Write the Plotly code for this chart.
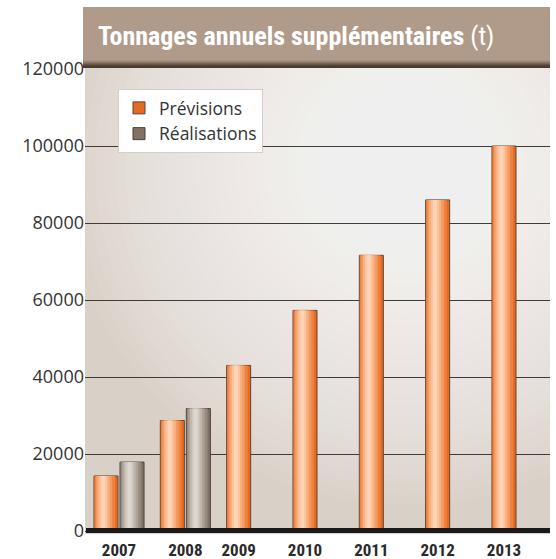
import plotly.graph_objects as go

# ---- data ----
years = ["2007", "2008", "2009", "2010", "2011", "2012", "2013"]
previsions = [14300, 28700, 43000, 57300, 71600, 86000, 100000]
realisations = [17900, 31800, None, None, None, None, None]
y_ticks = [0, 20000, 40000, 60000, 80000, 100000, 120000]
title_main = "Tonnages annuels supplémentaires"
title_unit = "(t)"

COND = "Liberation Sans Narrow, Roboto Condensed, DejaVu Sans Condensed, Roboto, sans-serif"

W, H = 556, 559
ML, MR, MT, MB = 85, 6, 68, 25
PX_PER_UNIT_X = 66.3
X0 = -21 / PX_PER_UNIT_X
X1 = 6 + 46 / PX_PER_UNIT_X
Y_PER_PX = 1000 / 3.85
Y0 = -3 * Y_PER_PX
Y1 = 120000 + 1 * Y_PER_PX

bar_w = 24 / PX_PER_UNIT_X
gap = 26 / PX_PER_UNIT_X

x_prev = list(range(len(years)))
x_real = [i + gap for i in range(len(years))]
tickvals = [i + (gap / 2 if realisations[i] is not None else 0) for i in range(len(years))]

fig = go.Figure()

# layered bars to imitate the cylinder gradient
orange_layers = [(1.0, 0.0, "#e56a22"), (0.86, -0.05, "#ee8140"), (0.68, -0.08, "#f49a60"),
                 (0.5, -0.1, "#f8b07f"), (0.32, -0.11, "#fbc49e"), (0.16, -0.11, "#fdd4b8")]
gray_layers = [(1.0, 0.0, "#817267"), (0.86, -0.05, "#978a7f"), (0.68, -0.08, "#ada297"),
               (0.5, -0.1, "#c2b8ae"), (0.32, -0.11, "#d2cac2"), (0.16, -0.11, "#ddd7d0")]

for k, (frac, off, col) in enumerate(orange_layers):
    fig.add_trace(go.Bar(
        x=[x + off * bar_w for x in x_prev], y=previsions, width=bar_w * frac,
        marker=dict(color=col, line=dict(color="#5e4536" if k == 0 else col, width=1 if k == 0 else 0)),
        name="Prévisions", showlegend=(k == 0), legendgroup="p", hoverinfo="skip"))
for k, (frac, off, col) in enumerate(gray_layers):
    fig.add_trace(go.Bar(
        x=[x + off * bar_w for x in x_real], y=realisations, width=bar_w * frac,
        marker=dict(color=col, line=dict(color="#4a3f38" if k == 0 else col, width=1 if k == 0 else 0)),
        name="Réalisations", showlegend=(k == 0), legendgroup="r", hoverinfo="skip"))

shapes = []
# radial light gradient in the plotting area
cx = X0 + (405 - ML) / PX_PER_UNIT_X
cy = (531 - 165) * Y_PER_PX
n = 32
for i in range(n):
    r = 340 - i * 10
    shapes.append(dict(type="circle", xref="x", yref="y", layer="below",
                       x0=cx - r / PX_PER_UNIT_X, x1=cx + r / PX_PER_UNIT_X,
                       y0=cy - r * Y_PER_PX, y1=cy + r * Y_PER_PX,
                       fillcolor="rgba(255,255,255,0.06)", line=dict(width=0)))

pw = W - ML - MR
ph = H - MT - MB
def px_x(p):
    return (p - ML) / pw
def px_y(p):
    return (H - MB - p) / ph

# title banner
shapes.append(dict(type="rect", xref="paper", yref="paper", layer="above",
                   x0=px_x(83), x1=px_x(550), y0=px_y(68), y1=px_y(7),
                   fillcolor="#b09b8b", line=dict(width=0)))
dark_steps = ["#a89282", "#9c8676", "#8c7767", "#7a6656", "#685546", "#574637", "#4a3b2f"]
for i, c in enumerate(dark_steps):
    shapes.append(dict(type="rect", xref="paper", yref="paper", layer="above",
                       x0=px_x(83), x1=px_x(550), y0=px_y(68), y1=px_y(60 + i),
                       fillcolor=c, line=dict(width=0)))
# black base bar
shapes.append(dict(type="rect", xref="paper", yref="y", layer="above",
                   x0=px_x(86), x1=1, y0=-2 * Y_PER_PX, y1=3 * Y_PER_PX,
                   fillcolor="#1a1a1a", line=dict(width=0)))

fig.update_layout(
    width=W, height=H,
    margin=dict(l=ML, r=MR, t=MT, b=MB, pad=0, autoexpand=False),
    paper_bgcolor="white", plot_bgcolor="#d9d0c7",
    barmode="overlay",
    shapes=shapes,
    showlegend=True,
    legend=dict(x=px_x(118), y=px_y(89), xanchor="left", yanchor="top",
                bgcolor="white", bordercolor="#d6cec6", borderwidth=1,
                font=dict(family="Open Sans", size=17.5, color="#333333"),
                tracegroupgap=0, itemclick=False),
    annotations=[dict(xref="paper", yref="paper", x=px_x(96), y=px_y(36),
                      xanchor="left", yanchor="middle", showarrow=False,
                      text=f"<b>{title_main}</b> <span style='font-weight:normal'>{title_unit}</span>",
                      font=dict(family=COND, size=26, color="white"))],
    xaxis=dict(range=[X0, X1], tickmode="array", tickvals=tickvals, ticktext=years,
               showgrid=False, zeroline=False, showline=False, ticks="", automargin=False,
               tickfont=dict(family=COND, size=17, color="#2a2a2a", weight="bold"),
               ticklabelstandoff=4),
    yaxis=dict(range=[Y0, Y1], tickmode="array", tickvals=y_ticks,
               ticktext=[str(v) for v in y_ticks], automargin=False,
               showgrid=True, gridcolor="#3c3c3c", gridwidth=1, zeroline=False,
               showline=False, ticks="",
               tickfont=dict(family="Open Sans", size=18, color="#333333"),
               ticklabelstandoff=0),
)

fig.write_html("out.html", config={"displayModeBar": False},
               post_script="document.body.style.margin='0px';")
